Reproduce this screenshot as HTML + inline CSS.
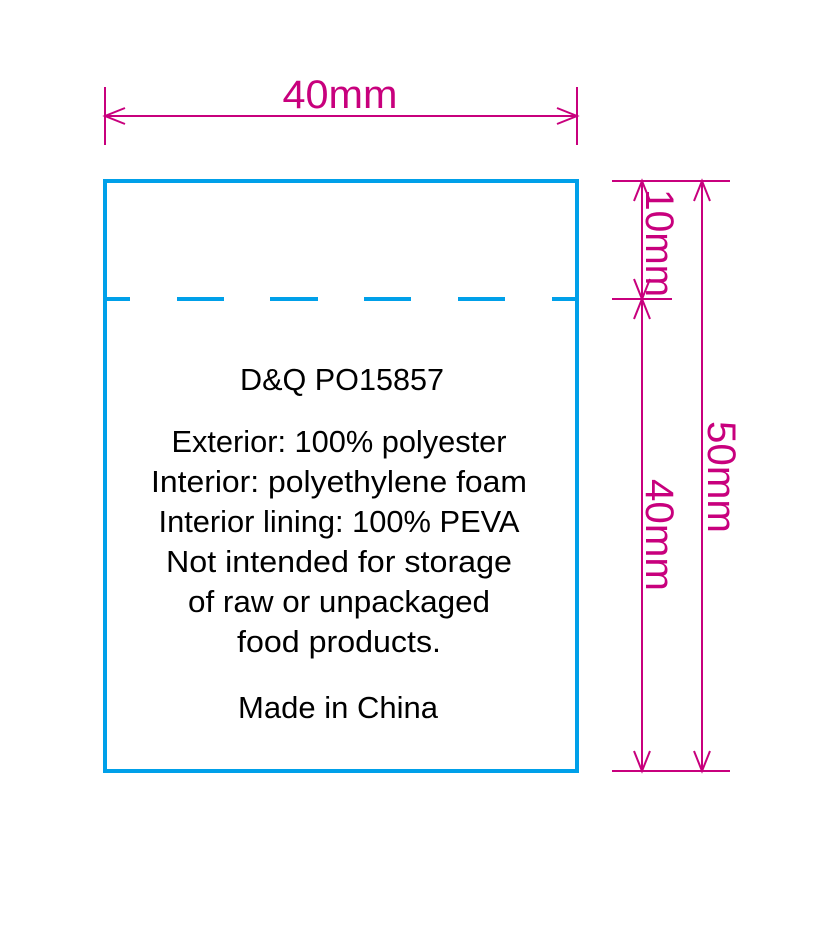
<!DOCTYPE html>
<html><head><style>body{margin:0;background:#fff}svg{display:block}</style></head><body>
<svg width="815" height="942" viewBox="0 0 815 942" xmlns="http://www.w3.org/2000/svg">
<g fill="none" stroke="#00a0e9" stroke-width="4">
<rect x="105" y="181" width="472" height="590"/>
<path d="M105 299H130M177 299H224M270 299H318M364 299H411M458 299H505M552 299H577"/>
</g>
<g fill="none" stroke="#c8007d" stroke-width="2">
<path d="M105 87V145M577 87V145M105 116H577"/>
<path d="M125 108L105 116L125 124M557 108L577 116L557 124"/>
<path d="M612 181H730M612 299H672M612 771H730"/>
<path d="M642 181V771M702 181V771"/>
<path d="M634 201L642 181L650 201M634 279L642 299L650 279M634 319L642 299L650 319M634 751L642 771L650 751"/>
<path d="M694 201L702 181L710 201M694 751L702 771L710 751"/>
</g>
<g fill="#c8007d" font-family="Liberation Sans, sans-serif" font-size="40">
<text x="340" y="108" text-anchor="middle" textLength="115" lengthAdjust="spacingAndGlyphs">40mm</text>
<text transform="translate(646 243) rotate(90)" text-anchor="middle" textLength="108" lengthAdjust="spacingAndGlyphs">10mm</text>
<text transform="translate(646 535) rotate(90)" text-anchor="middle" textLength="112" lengthAdjust="spacingAndGlyphs">40mm</text>
<text transform="translate(708 477) rotate(90)" text-anchor="middle" textLength="112" lengthAdjust="spacingAndGlyphs">50mm</text>
</g>
<g fill="#000" font-family="Liberation Sans, sans-serif" font-size="31" text-anchor="middle">
<text x="342" y="390" textLength="204" lengthAdjust="spacingAndGlyphs">D&amp;Q PO15857</text>
<text x="339" y="452" textLength="335" lengthAdjust="spacingAndGlyphs">Exterior: 100% polyester</text>
<text x="339" y="492" textLength="376" lengthAdjust="spacingAndGlyphs">Interior: polyethylene foam</text>
<text x="339" y="532" textLength="361" lengthAdjust="spacingAndGlyphs">Interior lining: 100% PEVA</text>
<text x="339" y="572" textLength="346" lengthAdjust="spacingAndGlyphs">Not intended for storage</text>
<text x="339" y="612" textLength="302" lengthAdjust="spacingAndGlyphs">of raw or unpackaged</text>
<text x="339" y="652" textLength="204" lengthAdjust="spacingAndGlyphs">food products.</text>
<text x="338" y="718" textLength="200" lengthAdjust="spacingAndGlyphs">Made in China</text>
</g>
</svg>
</body></html>
